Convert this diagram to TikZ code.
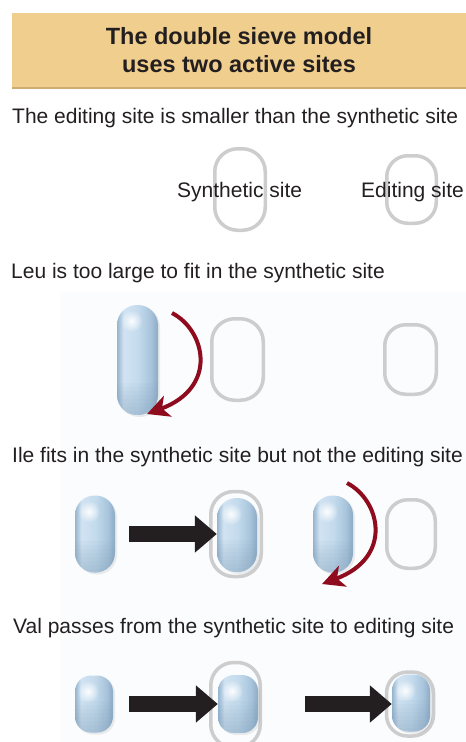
\documentclass[tikz,border=0pt]{standalone}
\usepackage{fontspec}
\setmainfont{Liberation Sans}
\usetikzlibrary{arrows.meta,shadows,fadings}
\definecolor{sand}{HTML}{F0CE8D}
\definecolor{sandedge}{HTML}{CDAE72}
\definecolor{ink}{HTML}{231F20}
\definecolor{rim}{HTML}{CDCDCD}
\definecolor{wine}{HTML}{8E0C1E}
\definecolor{panel}{HTML}{FBFCFE}
\definecolor{capdeep}{HTML}{7E9DB8}
\pgfdeclarehorizontalshading{capsule}{100bp}{rgb(0bp)=(0.59,0.71,0.81);rgb(25bp)=(0.59,0.71,0.81);rgb(33bp)=(0.82,0.89,0.95);rgb(50bp)=(0.77,0.86,0.93);rgb(66bp)=(0.66,0.77,0.86);rgb(75bp)=(0.55,0.67,0.78);rgb(100bp)=(0.55,0.67,0.78)}
\tikzfading[name=glow,inner color=transparent!0,outer color=transparent!100]

\begin{document}
\begin{tikzpicture}[x=1pt,y=-1pt,font=\fontsize{21}{25}\selectfont,
  banner/.style={fill=sand,minimum width=454pt,minimum height=75pt,align=center,text=ink,
    font=\fontsize{23.5}{28}\selectfont\bfseries},
  caption/.style={anchor=base west,inner sep=0pt,text=ink},
  site/.style={draw=rim,line width=3.5pt,inner sep=0pt,rounded corners=23pt},
  capsule/.style={inner sep=0pt,shading=capsule,rounded corners=19.5pt,
    drop shadow={opacity=.14,shadow xshift=2pt,shadow yshift=-2pt},
    path picture={
      \foreach \h in {4,8,...,32}
        \fill[sharp corners,capdeep,opacity=.06] (path picture bounding box.south west) rectangle ([yshift=\h pt]path picture bounding box.south east);
      \fill[white,path fading=glow,opacity=.95] ([xshift=-6pt,yshift=-16pt]path picture bounding box.north) circle (11);}},
  push/.style={draw=ink,line width=16pt,-{Triangle[length=22pt,width=36pt]}},
  reject/.style={draw=wine,line width=4pt,-{Stealth[length=22pt,width=22pt,inset=6pt]}}]
\useasboundingbox (0,0) rectangle (466,742);
\fill[panel] (60,292) rectangle (466,742);

\node[banner] (title) at (239,50.5) {The double sieve model\\uses two active sites};
\draw[sandedge,line width=2pt] (title.south west) -- (title.south east);

% two empty sites
\node[caption] (intro) at (12,123) {The editing site is smaller than the synthetic site};
\node[site,minimum width=50.5pt,minimum height=81.5pt] (s1) at (240,189.5) {};
\node[site,minimum width=49.5pt,minimum height=67.5pt,rounded corners=21pt] (e1) at (411.5,189.5) {};
\node[caption] (synlabel) at (177,197) {Synthetic site};
\node[caption] (editlabel) at (361,197) {Editing site};

% Leu
\node[caption] (leucap) at (11,278) {Leu is too large to fit in the synthetic site};
\node[site,minimum width=51.5pt,minimum height=81.5pt] (s2) at (237.5,359.5) {};
\node[site,minimum width=51.5pt,minimum height=69.5pt,rounded corners=21pt] (e2) at (410.5,359.5) {};
\node[capsule,minimum width=41pt,minimum height=110pt,rounded corners=20pt] (leu) at (137.5,360) {};
\coordinate (leutop) at (172,313);
\coordinate (leuend) at (147,414);
\draw[reject] (leutop) .. controls (205,330) and (219,387) .. (leuend);

% Ile
\node[caption] (ilecap) at (12,462) {Ile fits in the synthetic site but not the editing site};
\node[site,minimum width=50.5pt,minimum height=85pt] (s3) at (236,534) {};
\node[site,minimum width=48.5pt,minimum height=68.5pt,rounded corners=21pt] (e3) at (411,534) {};
\node[capsule,minimum width=40pt,minimum height=77pt] (a3) at (95,534) {};
\node[capsule,minimum width=40pt,minimum height=74pt] (b3) at (237,535) {};
\node[capsule,minimum width=40pt,minimum height=77pt] (c3) at (333,534) {};
\draw[push,shorten <=14pt] (a3) -- (b3.west |- a3);
\coordinate (iletop) at (347,483);
\coordinate (ileend) at (322,584);
\draw[reject] (iletop) .. controls (380,500) and (394,557) .. (ileend);

% Val
\node[caption] (valcap) at (13,633) {Val passes from the synthetic site to editing site};
\node[site,minimum width=49.5pt,minimum height=85pt] (s4) at (235.5,705) {};
\node[site,minimum width=47pt,minimum height=64pt,rounded corners=21pt] (e4) at (410,704) {};
\node[capsule,minimum width=38pt,minimum height=57pt,rounded corners=16pt] (a4) at (94,704) {};
\node[capsule,minimum width=40pt,minimum height=58pt,rounded corners=16pt] (b4) at (238,704) {};
\node[capsule,minimum width=38pt,minimum height=57pt,rounded corners=16pt] (c4) at (411,703) {};
\draw[push,shorten <=16pt] (a4) -- (b4);
\draw[push,shorten <=43pt] (s4.east |- b4) -- (c4.west |- b4);
\end{tikzpicture}
\end{document}
